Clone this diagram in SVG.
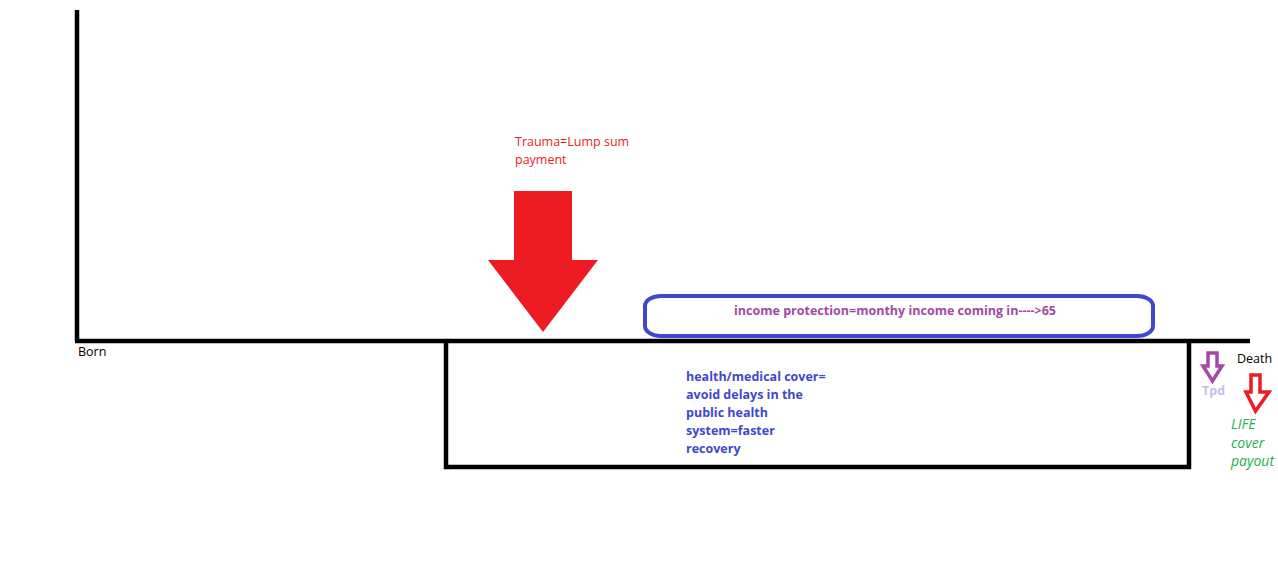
<svg xmlns="http://www.w3.org/2000/svg" width="1278" height="565" viewBox="0 0 1278 565">
<style>
.t{font-family:"Open Sans","Liberation Sans",sans-serif;font-size:12.5px}
.b{font-weight:bold}
.life{font-style:italic;font-size:14px}
.line{stroke:#000;stroke-width:4.5;fill:none}
</style>
<rect width="1278" height="565" fill="#fff"/>
<g id="connectors">
<path class="line" d="M77,10 V341 M75,341 H1250"/>
</g>
<g id="health-box">
<path class="line" d="M446,341 V467 H1189 V341"/>
<text class="t b" fill="#3f48cc" x="686" y="381">health/medical cover=</text>
<text class="t b" fill="#3f48cc" x="686" y="399">avoid delays in the</text>
<text class="t b" fill="#3f48cc" x="686" y="417">public health</text>
<text class="t b" fill="#3f48cc" x="686" y="435">system=faster</text>
<text class="t b" fill="#3f48cc" x="686" y="453">recovery</text>
</g>
<g id="born"><text class="t" fill="#000" x="78" y="356">Born</text></g>
<g id="death"><text class="t" fill="#000" x="1237" y="363">Death</text></g>
<g id="trauma">
<text class="t" fill="#ed1c24" x="515" y="146">Trauma=Lump sum</text>
<text class="t" fill="#ed1c24" x="515" y="164">payment</text>
<polygon fill="#ed1c24" points="514,191 572,191 572,260 598,260 543,332 488,260 514,260"/>
</g>
<g id="income">
<rect x="645" y="296" width="508" height="40" rx="16" ry="10" fill="none" stroke="#3f48cc" stroke-width="4"/>
<text class="t b" fill="#a349a4" x="734" y="315" textLength="322">income protection=monthy income coming in----&gt;65</text>
</g>
<g id="tpd">
<polygon fill="none" stroke="#a349a4" stroke-width="3.5" points="1208,353 1217,353 1217,366 1222,366 1212.5,381 1203,366 1208,366"/>
<text class="t b" fill="#c8bfe7" x="1202" y="395">Tpd</text>
</g>
<g id="life">
<polygon fill="none" stroke="#ed1c24" stroke-width="3.5" points="1251,375 1260,375 1260,392 1269,392 1255.5,411 1246,392 1251,392"/>
<text class="t life" fill="#22b14c" x="1231" y="429">LIFE</text>
<text class="t life" fill="#22b14c" x="1231" y="448">cover</text>
<text class="t life" fill="#22b14c" x="1231" y="466">payout</text>
</g>
</svg>
